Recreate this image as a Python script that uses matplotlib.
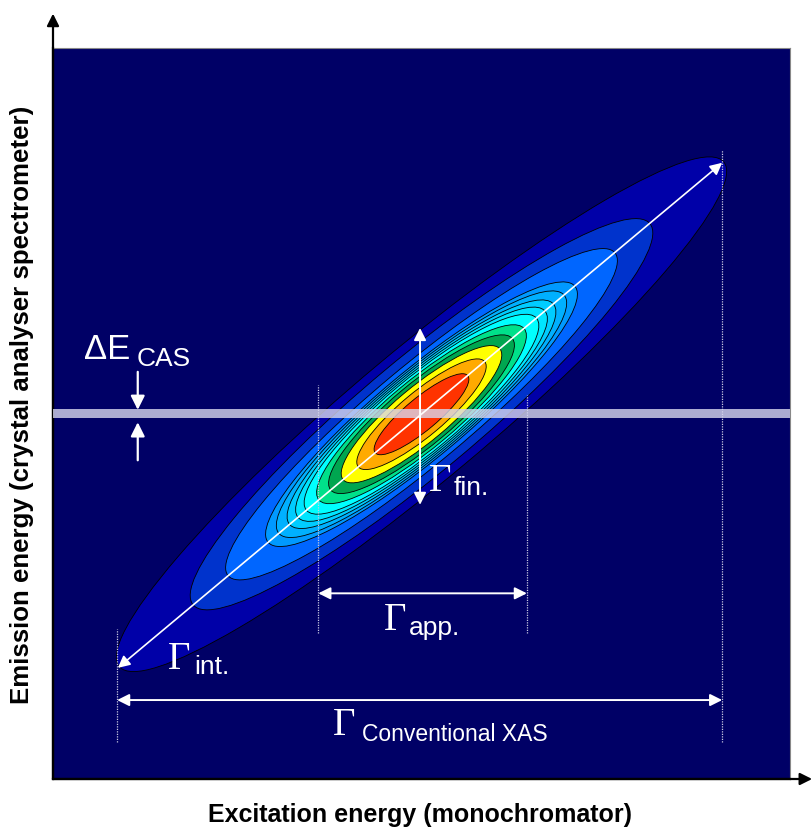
import matplotlib
matplotlib.use("Agg")
import matplotlib.pyplot as plt
from matplotlib.patches import Ellipse

# schematic RIXS plane, arbitrary energy units 0..100 on both axes
CENTER = (50.0, 49.9)
TILT_DEG = 40.1
# contour ellipses, inner -> outer: semi-major / semi-minor axis and fill colour
SEMI_MAJOR = [8.2, 11.2, 13.9, 16.1, 18.2, 20.4, 21.9, 23.4, 25.3, 27.2, 34.3, 40.5, 53.6]
SEMI_MINOR = [2.2, 3.0, 3.7, 4.2, 4.6, 4.95, 5.2, 5.45, 5.7, 5.95, 6.6, 7.8, 9.0]
FILLS = ["#ff3300", "#ffaa00", "#ffff00", "#00a650", "#00e08a", "#00ffff",
         "#00e5ff", "#00ccff", "#00b0ff", "#0099ff", "#0066ff", "#0033cc", "#0000a8"]

BAND_Y = 50.0          # crystal analyser acceptance
BAND_W = 1.1
DIAG = [(8.8, 15.2), (90.8, 84.3)]   # Γint diagonal
FIN = [(49.8, 61.7), (49.8, 37.5)]
APP = [(36.0, 25.4), (64.3, 25.4)]
CONV = [(8.7, 10.8), (90.8, 10.8)]
GUIDES = [(8.7, 5.1, 20.5), (90.8, 5.1, 86.0), (36.0, 20.0, 53.9), (64.3, 20.0, 52.5)]

NAVY = "#000066"
W = "white"
SANS = "Liberation Sans"
SERIF = "Liberation Serif"

fig = plt.figure(figsize=(8.12, 8.27), dpi=100)
ax = fig.add_axes([53 / 812, 48 / 827, 737 / 812, 731 / 827])
ax.set_facecolor(NAVY)
ax.set_xlim(0, 100)
ax.set_ylim(0, 100)
ax.set_xticks([])
ax.set_yticks([])
for s in ("top", "right"):
    ax.spines[s].set_color("#888888")
    ax.spines[s].set_linewidth(0.8)
for s in ("left", "bottom"):
    ax.spines[s].set_color("black")
    ax.spines[s].set_linewidth(1.6)

n = len(SEMI_MAJOR)
for i in range(n - 1, -1, -1):
    ax.add_patch(Ellipse(CENTER, 2 * SEMI_MAJOR[i], 2 * SEMI_MINOR[i], angle=TILT_DEG,
                         facecolor=FILLS[i], edgecolor="black", lw=0.6, zorder=1 + n - i))

ax.axhspan(BAND_Y - BAND_W / 2, BAND_Y + BAND_W / 2, color="#d8d8ee", alpha=0.8,
           lw=0, zorder=30)

for gx, y0, y1 in GUIDES:
    ax.plot([gx, gx], [y0, y1], color="#c8c8e0", lw=0.9, ls=(0, (1, 1)), zorder=29)


def darrow(p0, p1, lw=1.4, ms=18):
    ax.annotate("", xy=p1, xytext=p0, zorder=31,
                arrowprops=dict(arrowstyle="<|-|>", color=W, lw=lw,
                                mutation_scale=ms, shrinkA=0, shrinkB=0))


darrow(*DIAG, lw=1.2)
darrow(*FIN)
darrow(*APP)
darrow(*CONV)

# ΔE_CAS small arrows pointing at the band
for y0, y1 in [(55.7, 50.5), (43.6, 48.8)]:
    ax.annotate("", xy=(11.5, y1), xytext=(11.5, y0), zorder=31,
                arrowprops=dict(arrowstyle="-|>", color=W, lw=1.6, mutation_scale=21,
                                shrinkA=0, shrinkB=0))


def label(xg, yg, sub, xs, ys, ssize=19):
    ax.text(xg, yg, "Γ", color=W, fontsize=28, family=SERIF, va="baseline", zorder=32)
    ax.text(xs, ys, sub, color=W, fontsize=ssize, family=SANS, va="baseline", zorder=32)


label(51.0, 39.4, "fin.", 54.4, 38.8)
label(44.9, 20.4, "app.", 48.3, 19.7)
label(15.6, 15.0, "int.", 19.1, 14.4)
label(38.0, 6.0, "Conventional XAS", 41.9, 5.2, ssize=16.5)

ax.text(4.2, 57.4, "ΔE", color=W, fontsize=25, family=SANS, va="baseline", zorder=32)
ax.text(11.3, 56.5, "CAS", color=W, fontsize=19, family=SANS, va="baseline", zorder=32)

# axis arrows
for tip in [(0, 1.047), (1.03, 0)]:
    ax.annotate("", xy=tip, xytext=(0, 0), xycoords="axes fraction",
                arrowprops=dict(arrowstyle="-|>", color="black", lw=1.6,
                                mutation_scale=18, shrinkA=0, shrinkB=0),
                annotation_clip=False)

fig.text(420 / 812, 1 - 815 / 827, "Excitation energy (monochromator)", ha="center",
         va="center", fontsize=18, fontweight="bold", family=SANS)
fig.text(22 / 812, 1 - 405 / 827, "Emission energy (crystal analyser spectrometer)",
         ha="center", va="center", rotation=90, fontsize=18.6, fontweight="bold",
         family=SANS)

fig.savefig("out.png", dpi=100)
